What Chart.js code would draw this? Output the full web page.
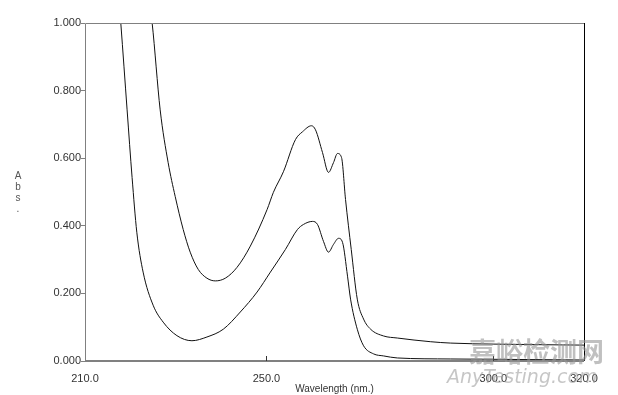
<!DOCTYPE html>
<html>
<head>
<meta charset="utf-8">
<script src="https://cdn.jsdelivr.net/npm/chart.js@4/dist/chart.umd.min.js"></script>
<style>
	html,body{margin:0;padding:0;background:#fff;}
	#chart{display:block;}
</style>
</head>
<body>
<canvas id="chart" width="618" height="395"></canvas>
<script>
// upper spectrum (higher concentration)
let upperWl = [224.3,224.8,226.57,228.33,229.88,231.65,233.19,234.96,236.88,238.72,240.93,243.51,246.45,250.14,251.53,253.74,256.39,257.93,259.92,260.81,262.35,263.68,264.78,265.66,266.55,267.43,268.69,270.02,271.41,272.96,275.83,278.85,286.21,290.63,300.13,320.0];
let upperAbs = [1.05,1.0,0.743,0.587,0.487,0.389,0.322,0.271,0.245,0.237,0.245,0.277,0.340,0.448,0.499,0.560,0.655,0.678,0.696,0.684,0.617,0.558,0.587,0.614,0.602,0.478,0.330,0.183,0.124,0.094,0.074,0.068,0.057,0.053,0.050,0.047];

// lower spectrum
let lowerWl = [217.6,217.89,219.28,220.38,221.42,222.81,225.02,227.23,230.26,233.57,236.88,240.48,244.24,247.93,250.87,254.18,256.83,258.16,260.14,261.25,262.57,263.68,264.78,265.89,266.77,267.87,268.54,270.02,271.41,273.62,275.83,278.85,290.63,320.0];
let lowerAbs = [1.05,1.0,0.743,0.543,0.381,0.263,0.165,0.115,0.075,0.060,0.071,0.094,0.145,0.204,0.263,0.330,0.389,0.404,0.413,0.404,0.354,0.322,0.345,0.363,0.351,0.251,0.183,0.094,0.045,0.021,0.015,0.009,0.006,0.003];

let xTicks = [210,250,300,320];
let yTicks = [0,0.2,0.4,0.6,0.8,1.0];
let yLetters = ['A','b','s','.'];

function toPoints(xs, ys){
	return xs.map(function(x, i){ return {x:x, y:ys[i]}; });
}

let framePlugin = {
	id:'frame',
	afterDatasetsDraw:function(chart){
		let ctx = chart.ctx;
		let a = chart.chartArea;
		let xs = chart.scales.x;
		ctx.save();
		ctx.lineWidth = 1;
		ctx.strokeStyle = '#808080';
		ctx.beginPath();
		ctx.moveTo(a.left + 0.5, a.bottom);
		ctx.lineTo(a.left + 0.5, a.top + 0.5);
		ctx.lineTo(a.right, a.top + 0.5);
		ctx.stroke();
		ctx.lineWidth = 2;
		ctx.beginPath();
		ctx.moveTo(a.left, a.bottom);
		ctx.lineTo(a.right, a.bottom);
		ctx.stroke();
		ctx.lineWidth = 1;
		ctx.strokeStyle = '#000';
		ctx.beginPath();
		ctx.moveTo(a.right + 0.5, a.top);
		ctx.lineTo(a.right + 0.5, a.bottom);
		ctx.stroke();
		// inner ticks on the x axis
		ctx.strokeStyle = '#333';
		[250,300].forEach(function(v){
			let px = Math.round(xs.getPixelForValue(v)) + 0.5;
			ctx.beginPath();
			ctx.moveTo(px, a.bottom);
			ctx.lineTo(px, a.bottom - 5);
			ctx.stroke();
		});
		// y label written letter by letter
		ctx.fillStyle = '#555';
		ctx.font = '10px "Liberation Sans", Arial, sans-serif';
		ctx.textAlign = 'center';
		ctx.textBaseline = 'middle';
		yLetters.forEach(function(l, i){
			ctx.fillText(l, 18, 176 + i * 11);
		});
		ctx.restore();
	},
	afterDraw:function(chart){
		let ctx = chart.ctx;
		ctx.save();
		ctx.fillStyle = 'rgba(150,150,150,0.6)';
		ctx.font = 'bold 27px "Noto Sans CJK SC", sans-serif';
		ctx.textBaseline = 'alphabetic';
		ctx.fillText('嘉峪检测网', 469, 362);
		ctx.fillStyle = 'rgba(160,160,160,0.6)';
		ctx.font = 'italic 19px "DejaVu Sans", sans-serif';
		ctx.fillText('AnyTesting.com', 447, 383);
		ctx.restore();
	}
};

let ctx = document.getElementById('chart');

let myChart = new Chart(ctx, {
	type:'line',
	data:{
		datasets:[{
			data:toPoints(upperWl, upperAbs),
			borderColor:'#111',
			borderWidth:1,
			pointRadius:0,
			cubicInterpolationMode:'monotone'
		},{
			data:toPoints(lowerWl, lowerAbs),
			borderColor:'#111',
			borderWidth:1,
			pointRadius:0,
			cubicInterpolationMode:'monotone'
		}]
	},
	options:{
		responsive:false,
		animation:false,
		devicePixelRatio:1,
		layout:{padding:{top:23, right:34, left:0, bottom:0}},
		plugins:{legend:{display:false}, tooltip:{enabled:false}},
		scales:{
			x:{
				type:'linear',
				min:210,
				max:320,
				afterBuildTicks:function(scale){
					scale.ticks = xTicks.map(function(v){ return {value:v}; });
				},
				afterFit:function(scale){ scale.height = 34; },
				grid:{display:false},
				border:{display:false},
				ticks:{
					padding:3,
					maxRotation:0,
					autoSkip:false,
					color:'#333',
					font:{family:'"Liberation Sans", Arial, sans-serif', size:11},
					callback:function(v){ return Number(v).toFixed(1); }
				},
				title:{
					display:true,
					text:'Wavelength (nm.)',
					color:'#333',
					font:{family:'"Liberation Sans", Arial, sans-serif', size:10},
					padding:{top:0, bottom:0}
				}
			},
			y:{
				min:0,
				max:1,
				afterBuildTicks:function(scale){
					scale.ticks = yTicks.map(function(v){ return {value:v}; });
				},
				afterFit:function(scale){ scale.width = 85; },
				grid:{display:true, drawOnChartArea:false, drawTicks:true, tickLength:4, color:'#808080'},
				border:{display:false},
				ticks:{
					padding:0,
					color:'#333',
					font:{family:'"Liberation Sans", Arial, sans-serif', size:11},
					callback:function(v){ return Number(v).toFixed(3); }
				}
			}
		}
	},
	plugins:[framePlugin]
});
</script>
</body>
</html>
